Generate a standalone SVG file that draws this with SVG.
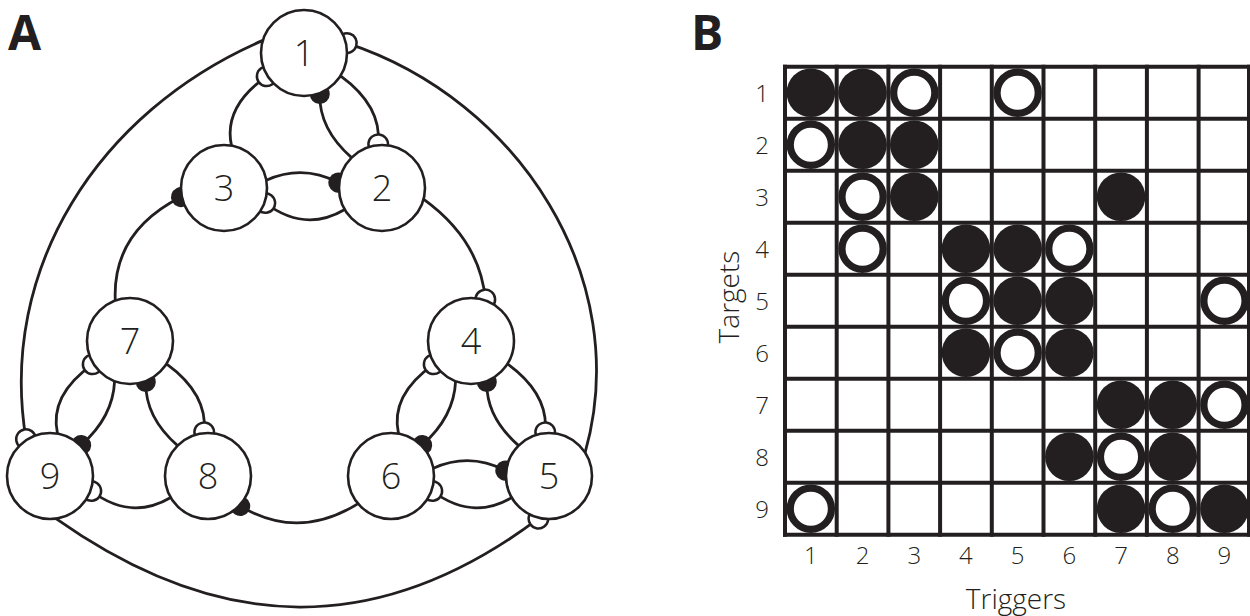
<svg xmlns="http://www.w3.org/2000/svg" width="1250" height="616" viewBox="0 0 1250 616">
<style>
.bg{fill:#ffffff}
.conn path{fill:none;stroke:#231f20;stroke-width:2.8}
.w{marker-end:url(#kw)}
.b{marker-end:url(#kb)}
.node circle{fill:#ffffff;stroke:#231f20;stroke-width:2.6}
.node text{font-family:"Open Sans","Noto Sans",sans-serif;font-weight:300;font-size:36px;fill:#231f20;text-anchor:middle}
.panel{font-family:"Open Sans","Noto Sans",sans-serif;font-weight:bold;font-size:48px;fill:#231f20}
.lab{font-family:"Open Sans","Noto Sans",sans-serif;font-weight:300;font-size:24px;fill:#231f20;text-anchor:middle}
.axis{font-family:"Open Sans","Noto Sans",sans-serif;font-weight:300;font-size:28px;fill:#231f20;text-anchor:middle}
.f{fill:#231f20}
.h{fill:#ffffff;stroke:#231f20;stroke-width:7.2}
.grid line{stroke:#231f20;stroke-width:4}
</style>
<defs>
<marker id="kw" markerWidth="26" markerHeight="26" refX="13" refY="13" markerUnits="userSpaceOnUse" orient="auto" overflow="visible"><circle cx="13" cy="13" r="9.8" fill="#ffffff" stroke="#231f20" stroke-width="2.5"/></marker>
<marker id="kb" markerWidth="26" markerHeight="26" refX="13" refY="13" markerUnits="userSpaceOnUse" orient="auto" overflow="visible"><circle cx="13" cy="13" r="10" fill="#231f20"/></marker>
</defs>
<rect class="bg" x="0" y="0" width="1250" height="616"/>
<text class="panel" x="8" y="50">A</text>
<text class="panel" x="691" y="50">B</text>
<g id="connectors" class="conn">
<path class="w" d="M262.9,40.4 C97,112 -2,270 26,439.1"/>
<path class="w" d="M585.1,452.6 C634,280 520,100 346.9,43.1"/>
<path class="w" d="M56,518.6 C221,635 379,638 538.4,518.7"/>
<path class="b" d="M115.3,300.6 Q112,232 181,197.1"/>
<path class="w" d="M423.5,199.1 Q480,240 485.3,299.4"/>
<path class="b" d="M358.1,503.6 Q298,541 240.2,506"/>
<path class="w" d="M231.5,145.7 Q223,107 266.7,76.3"/>
<path class="w" d="M340.5,75.8 Q382,106 378.2,144.2"/>
<path class="b" d="M351.6,157.6 Q319,129 319.8,94.1"/>
<path class="b" d="M266.3,180.2 Q303,164 338.3,182.6"/>
<path class="w" d="M344.8,209.5 Q305,233 265.3,203"/>
<path class="w" d="M398.5,433.7 Q390,395 433.7,364.3"/>
<path class="b" d="M455.6,381.1 Q454,417 422.2,445"/>
<path class="w" d="M507.5,363.8 Q549,394 545.2,432.2"/>
<path class="b" d="M518.6,445.6 Q486,417 486.8,382.1"/>
<path class="b" d="M433.3,468.2 Q470,452 505.3,470.6"/>
<path class="w" d="M511.8,497.5 Q472,521 432.3,491"/>
<path class="w" d="M57.5,433.7 Q49,395 92.7,364.3"/>
<path class="b" d="M114.6,381.1 Q113,417 81.2,445"/>
<path class="w" d="M166.5,363.8 Q208,394 204.2,432.2"/>
<path class="b" d="M177.6,445.6 Q145,417 145.8,382.1"/>
<path class="w" d="M170.8,497.5 Q131,521 91.3,491"/>
</g>
<g id="node1" class="node"><circle cx="304" cy="53" r="43"/><text x="304" y="66">1</text></g>
<g id="node2" class="node"><circle cx="382" cy="188" r="43"/><text x="382" y="201">2</text></g>
<g id="node3" class="node"><circle cx="224" cy="188" r="43"/><text x="224" y="201">3</text></g>
<g id="node4" class="node"><circle cx="471" cy="341" r="43"/><text x="471" y="354">4</text></g>
<g id="node5" class="node"><circle cx="549" cy="476" r="43"/><text x="549" y="489">5</text></g>
<g id="node6" class="node"><circle cx="391" cy="476" r="43"/><text x="391" y="489">6</text></g>
<g id="node7" class="node"><circle cx="130" cy="341" r="43"/><text x="130" y="354">7</text></g>
<g id="node8" class="node"><circle cx="208" cy="476" r="43"/><text x="208" y="489">8</text></g>
<g id="node9" class="node"><circle cx="50" cy="476" r="43"/><text x="50" y="489">9</text></g>
<g id="matrix">
<circle class="f" cx="810.85" cy="92.7" r="24.3"/>
<circle class="f" cx="862.55" cy="92.7" r="24.3"/>
<circle class="h" cx="914.25" cy="92.7" r="20.6"/>
<circle class="h" cx="1017.65" cy="92.7" r="20.6"/>
<circle class="h" cx="810.85" cy="144.7" r="20.6"/>
<circle class="f" cx="862.55" cy="144.7" r="24.3"/>
<circle class="f" cx="914.25" cy="144.7" r="24.3"/>
<circle class="h" cx="862.55" cy="196.7" r="20.6"/>
<circle class="f" cx="914.25" cy="196.7" r="24.3"/>
<circle class="f" cx="1121.05" cy="196.7" r="24.3"/>
<circle class="h" cx="862.55" cy="248.7" r="20.6"/>
<circle class="f" cx="965.95" cy="248.7" r="24.3"/>
<circle class="f" cx="1017.65" cy="248.7" r="24.3"/>
<circle class="h" cx="1069.35" cy="248.7" r="20.6"/>
<circle class="h" cx="965.95" cy="300.7" r="20.6"/>
<circle class="f" cx="1017.65" cy="300.7" r="24.3"/>
<circle class="f" cx="1069.35" cy="300.7" r="24.3"/>
<circle class="h" cx="1224.45" cy="300.7" r="20.6"/>
<circle class="f" cx="965.95" cy="352.7" r="24.3"/>
<circle class="h" cx="1017.65" cy="352.7" r="20.6"/>
<circle class="f" cx="1069.35" cy="352.7" r="24.3"/>
<circle class="f" cx="1121.05" cy="404.7" r="24.3"/>
<circle class="f" cx="1172.75" cy="404.7" r="24.3"/>
<circle class="h" cx="1224.45" cy="404.7" r="20.6"/>
<circle class="f" cx="1069.35" cy="456.7" r="24.3"/>
<circle class="h" cx="1121.05" cy="456.7" r="20.6"/>
<circle class="f" cx="1172.75" cy="456.7" r="24.3"/>
<circle class="h" cx="810.85" cy="508.7" r="20.6"/>
<circle class="f" cx="1121.05" cy="508.7" r="24.3"/>
<circle class="h" cx="1172.75" cy="508.7" r="20.6"/>
<circle class="f" cx="1224.45" cy="508.7" r="24.3"/>
</g>
<g id="grid" class="grid">
<line x1="785" y1="64.7" x2="785" y2="536.7"/>
<line x1="836.7" y1="64.7" x2="836.7" y2="536.7"/>
<line x1="888.4" y1="64.7" x2="888.4" y2="536.7"/>
<line x1="940.1" y1="64.7" x2="940.1" y2="536.7"/>
<line x1="991.8" y1="64.7" x2="991.8" y2="536.7"/>
<line x1="1043.5" y1="64.7" x2="1043.5" y2="536.7"/>
<line x1="1095.2" y1="64.7" x2="1095.2" y2="536.7"/>
<line x1="1146.9" y1="64.7" x2="1146.9" y2="536.7"/>
<line x1="1198.6" y1="64.7" x2="1198.6" y2="536.7"/>
<line x1="1249" y1="64.7" x2="1249" y2="536.7"/>
<line x1="783" y1="66.7" x2="1250" y2="66.7"/>
<line x1="783" y1="118.7" x2="1250" y2="118.7"/>
<line x1="783" y1="170.7" x2="1250" y2="170.7"/>
<line x1="783" y1="222.7" x2="1250" y2="222.7"/>
<line x1="783" y1="274.7" x2="1250" y2="274.7"/>
<line x1="783" y1="326.7" x2="1250" y2="326.7"/>
<line x1="783" y1="378.7" x2="1250" y2="378.7"/>
<line x1="783" y1="430.7" x2="1250" y2="430.7"/>
<line x1="783" y1="482.7" x2="1250" y2="482.7"/>
<line x1="783" y1="534.7" x2="1250" y2="534.7"/>
</g>
<g id="row-labels" class="lab">
<text x="762" y="101.7">1</text>
<text x="762" y="153.7">2</text>
<text x="762" y="205.7">3</text>
<text x="762" y="257.7">4</text>
<text x="762" y="309.7">5</text>
<text x="762" y="361.7">6</text>
<text x="762" y="413.7">7</text>
<text x="762" y="465.7">8</text>
<text x="762" y="517.7">9</text>
</g>
<g id="col-labels" class="lab">
<text x="810.85" y="564">1</text>
<text x="862.55" y="564">2</text>
<text x="914.25" y="564">3</text>
<text x="965.95" y="564">4</text>
<text x="1017.65" y="564">5</text>
<text x="1069.35" y="564">6</text>
<text x="1121.05" y="564">7</text>
<text x="1172.75" y="564">8</text>
<text x="1224.45" y="564">9</text>
</g>
<text class="axis" x="1016" y="609">Triggers</text>
<text class="axis" transform="translate(739,297) rotate(-90)" x="0" y="0">Targets</text>
</svg>
